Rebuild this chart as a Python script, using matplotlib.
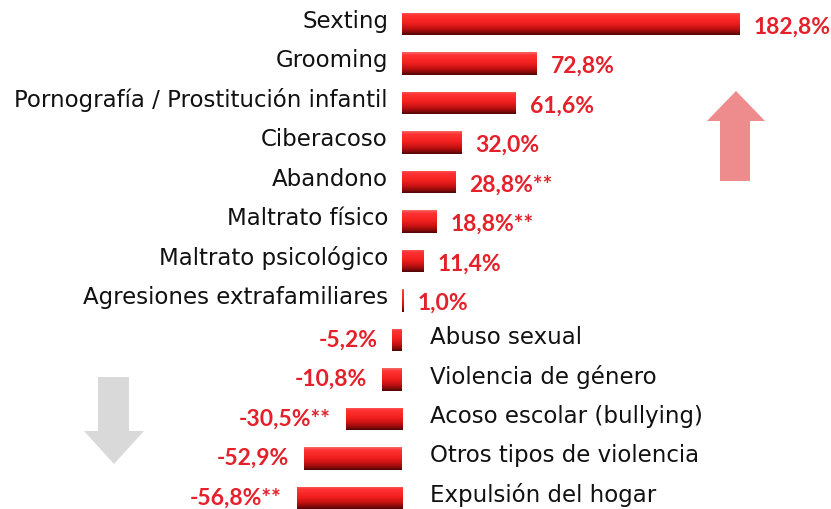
import matplotlib
matplotlib.use("Agg")
import matplotlib.pyplot as plt
import numpy as np
from matplotlib.colors import LinearSegmentedColormap
from matplotlib.patches import Polygon, Rectangle

# data
categorias = ["Sexting", "Grooming", "Pornografía / Prostitución infantil", "Ciberacoso",
              "Abandono", "Maltrato físico", "Maltrato psicológico", "Agresiones extrafamiliares",
              "Abuso sexual", "Violencia de género", "Acoso escolar (bullying)",
              "Otros tipos de violencia", "Expulsión del hogar"]
valores = [182.8, 72.8, 61.6, 32.0, 28.8, 18.8, 11.4, 1.0,
           -5.2, -10.8, -30.5, -52.9, -56.8]
asteriscos = [False, False, False, False, True, True, False, False,
              False, False, True, False, True]

W, H = 831, 510
fig = plt.figure(figsize=(W / 100, H / 100), dpi=100)
ax = fig.add_axes([0, 0, 1, 1])
ax.axis("off")

# pixel layout: zero at x=402, 1.849 px per unit, rows every 39.5 px from y=25
x0, sx = 402, 1.849
y0, sy = 25, 39.5
ax.set_xlim(-x0 / sx, (W - x0) / sx)
ax.set_ylim((H - y0) / sy, -y0 / sy)

grad = LinearSegmentedColormap.from_list(
    "barra", [(0, "#f46a6a"), (0.12, "#ff3434"), (0.45, "#f42020"),
              (0.7, "#c81212"), (0.88, "#8a0b0b"), (1, "#4e0606")])
g = np.linspace(0, 1, 64).reshape(-1, 1)
alto = 0.56

red = "#e4202a"
fam = ["DejaVu Sans"]
fam_val = ["Lato", "DejaVu Sans"]

for i, (cat, v, ast) in enumerate(zip(categorias, valores, asteriscos)):
    left, right = min(0, v), max(0, v)
    im = ax.imshow(g, cmap=grad, aspect="auto", interpolation="bilinear",
                   extent=(left, right, i + alto / 2, i - alto / 2), zorder=2)
    clip = Rectangle((left, i - alto / 2), right - left, alto, transform=ax.transData,
                     facecolor="none", edgecolor="none")
    ax.add_patch(clip)
    im.set_clip_path(clip)
    txt = f"{v:.1f}".replace(".", ",") + "%" + ("**" if ast else "")
    if v >= 0:
        ax.text(-14 / sx, i - 0.1, cat, ha="right", va="center", fontsize=16.5,
                color="#111111", family=fam)
        ax.text(v + 14 / sx, i + 0.05, txt, ha="left", va="center", fontsize=16.5,
                color=red, fontweight="bold", family=fam_val)
    else:
        ax.text(28 / sx, i - 0.1, cat, ha="left", va="center", fontsize=16.5,
                color="#111111", family=fam)
        ax.text(v - 15 / sx, i - 0.03, txt, ha="right", va="center", fontsize=16.5,
                color=red, fontweight="bold", family=fam_val)

# decorative arrows in pixel coords
def px(x, y):
    return (x / W, 1 - y / H)

up = [px(707, 122), px(736, 92), px(765, 122), px(750, 122), px(750, 182),
      px(720, 182), px(720, 122)]
fig.patches.append(Polygon(up, closed=True, transform=fig.transFigure,
                           facecolor="#ee8b8d", edgecolor="none"))
down = [px(98, 378), px(129, 378), px(129, 432), px(144, 432), px(114, 465),
        px(84, 432), px(98, 432)]
fig.patches.append(Polygon(down, closed=True, transform=fig.transFigure,
                           facecolor="#d9d9d9", edgecolor="none"))

fig.savefig("out.png", dpi=100)
